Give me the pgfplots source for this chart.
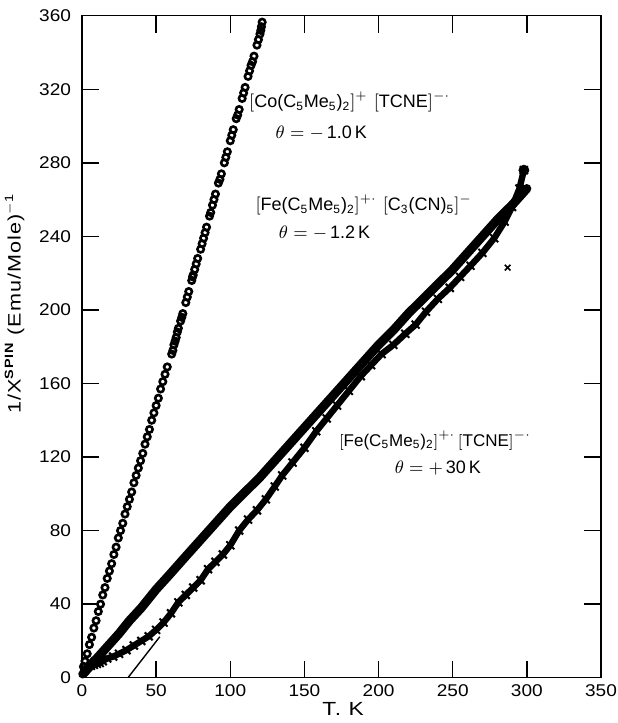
\documentclass[border=0pt]{standalone}
\usepackage{pgfplots}
\pgfplotsset{compat=1.18}
\usepackage{fontspec}
\setmainfont{Liberation Sans}
\newfontfamily\widefont[FakeStretch=1.12]{Liberation Sans}
\newfontfamily\labfont[FakeStretch=1.2, LetterSpace=6]{Liberation Sans}
\newcommand{\sub}[1]{\textsubscript{#1}}
\begin{document}
\begin{tikzpicture}
\begin{axis}[name=ax, scale only axis, width=259.5pt, height=331pt, clip=false,
  xmin=0, xmax=350, ymin=0, ymax=360,
  xtick={0,50,...,350}, ytick={0,40,...,360},
  tick align=inside, major tick length=8.5pt,
  axis line style={line width=0.8pt},
  every tick/.style={black, line width=0.7pt},
  tick label style={font=\widefont\fontsize{8.5}{10}\selectfont},
  yticklabel style={xshift=-2pt},
  /pgf/number format/assume math mode=true,
  xlabel={T.\ K},
  xlabel style={at={(axis description cs:0.503,-0.047)}, anchor=center, font=\labfont\fontsize{9.5}{11}\selectfont},
]
% Co(C5Me5)2 TCNE
\addplot[only marks, mark=o, mark size=1.6pt, mark options={line width=1.3pt, black}] coordinates {
(1,6)(2,9)(3.5,13)(5,18)(6.5,22)(8,27)(9.5,31)(11,36)(12.5,40)(14,45)(15.5,49)(17,54)(18.5,58)(20,62)
(21.5,67)(23,71)(24.5,76)(26,80)(27.5,84)(29,89)(30.5,93)(32,97)(33.5,101)(35,106)(36.5,110)(38,114)
(39.5,118)(41,122)(42.5,127)(44,131)(45.5,135)(47,140)(48.5,144)(50,148)(51.5,152)(53,157)(54.5,161)
(56,165)(57.5,169)(60.5,176)(61.3,178)(62,181)(62.8,183)(63.5,185)(64.3,188)(65,190)(66.5,194)(67.3,196)(68,198)
(70,204)(71,207)(72,210)(74,216)(74.6,218)(75,219)(76,222)(77,225)(78,228)(80,233)(81,236)(82,239)(83,242)(84,245)
(86,251)(86.8,253)(88,257)(89,260)(90,263)(92,269)(93,271)(94,274)(96,280)(97,283)(98,286)(100,292)(101,295)
(102,298)(104,304)(105,306)(106,309)(108,315)(109,318)(110,321)(112,327)(113,330)(114,333)(115,335)(116,338)
(118,344)(119,347)(120,350)(120.6,352)(121,354)(121.5,356.5)};
% Fe C3(CN)5
\addplot[black, line width=4.5pt, line join=round, line cap=round] coordinates {
(0.5,2)(2,3)(4,5)(6,7)(8,9)(10,10.5)(15,15)(20,19.5)(25,24)(32,31)(40,38)(50,48)(59,56)(70,66)
(80,75)(90,84)(100,93)(110,101)(120,109)(130,118)(140,127)(150,136)(160,145)(170,154)(180,163)
(190,172)(200,181)(210,189)(220,198)(230,206)(240,214)(250,222)(260,231)(270,240)(280,249)(290,257)(300,266)};
% Fe TCNE
\addplot[black, line width=3.2pt, line join=round, mark=x, mark size=2.8pt, mark options={line width=1pt}] coordinates {
(2,5)(4,6)(6,6.5)(8,7)(10,7.5)(12,8)(14,9)(17,10.5)(21,11.5)(25,13)(30,15)(35,17.5)(40,20)(45,22.5)
(50,26)(55,30)(60,35)(65,41)(70,45)(75,49)(80,53)(85,59)(90,63)(95,67)(100,72)(106,80)(112,86)(118,91)
(124,97)(130,104)(135,110)(142,117)(150,125)(158,134)(165,141)(172,148)(180,156)(188,164)(195,170)
(202,176)(210,181)(218,187)(225,192)(232,199)(240,206)(248,212)(255,218)(262,224)(270,231)(278,239)
(285,248)(290,256)(295,266)(298,276)};
\addplot[only marks, mark=x, mark size=2pt, mark options={line width=0.8pt, black}] coordinates {(287,223)};
\addplot[only marks, mark=*, mark size=2.5pt, black] coordinates {(298,276)};
% Curie-Weiss extrapolation
\addplot[black, line width=0.7pt] coordinates {(31,0)(52.5,22.3)};
% labels
\node[rotate=90, anchor=center, font=\labfont\fontsize{9}{11}\selectfont] at (axis description cs:-0.13,0.565)
  {1/X\textsuperscript{\bfseries SPIN} (Emu/Mole)\textsuperscript{$-$1}};
\node[font=\fontsize{9}{11}\selectfont] at (axis cs:180.5,313) {$\left[\mbox{Co(C\sub{5}Me\sub{5})\sub{2}}\right]^{+}\,\left[\mbox{TCNE}\right]^{-\cdot}$};
\node[font=\fontsize{9}{11}\selectfont] at (axis cs:161.4,296) {$\theta=-$\,1.0\,K};
\node[font=\fontsize{9}{11}\selectfont] at (axis cs:190,257) {$\left[\mbox{Fe(C\sub{5}Me\sub{5})\sub{2}}\right]^{+\cdot}\,\left[\mbox{C\sub{3}(CN)\sub{5}}\right]^{-}$};
\node[font=\fontsize{9}{11}\selectfont] at (axis cs:163.6,241.8) {$\theta=-$\,1.2\,K};
\node[font=\fontsize{8.5}{10}\selectfont] at (axis cs:238,129) {$\left[\mbox{Fe(C\sub{5}Me\sub{5})\sub{2}}\right]^{+\cdot}\left[\mbox{TCNE}\right]^{-\cdot}$};
\node[font=\fontsize{9}{11}\selectfont] at (axis cs:240,113.9) {$\theta=+$\,30\,K};
\end{axis}
\pgfresetboundingbox
\path ([shift={(-41pt,-22.65pt)}]ax.south west) rectangle ([shift={(8pt,7.85pt)}]ax.north east);
\end{tikzpicture}
\end{document}
